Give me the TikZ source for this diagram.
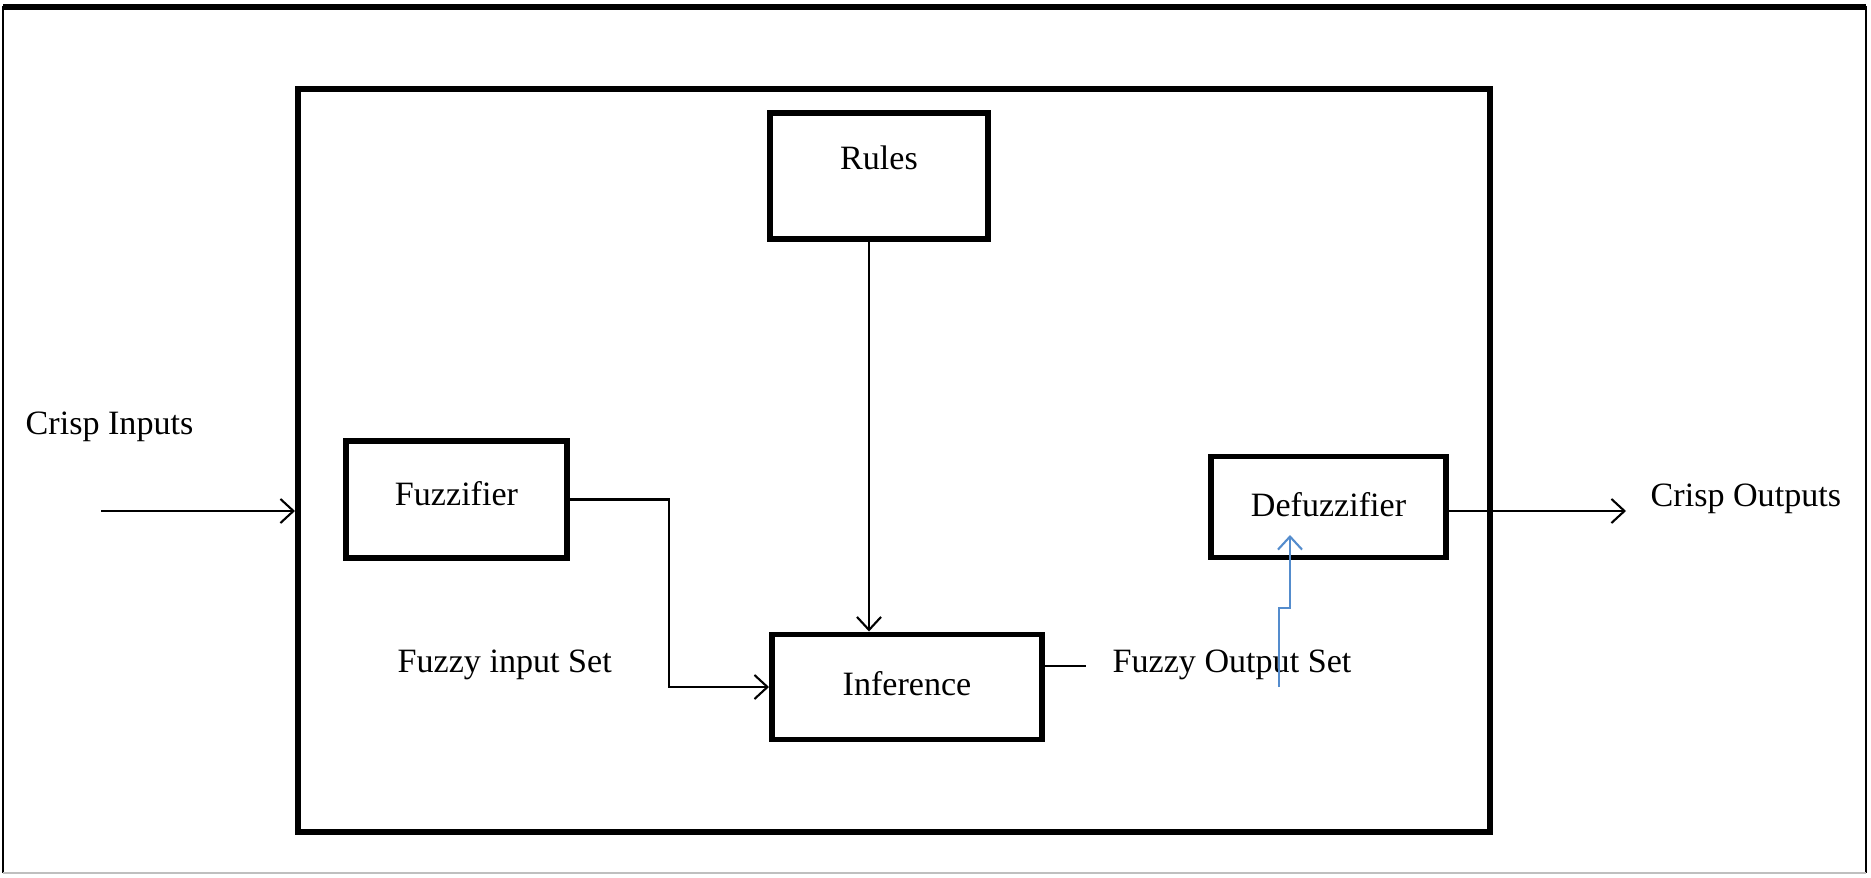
\documentclass[tikz,border=0pt]{standalone}
\usepackage{fontspec}
\setmainfont{Liberation Serif}
\usepackage{xcolor}
\usepackage{tikz}
\usetikzlibrary{arrows.meta,positioning}

\definecolor{linkblue}{RGB}{84,140,205}

\begin{document}
\begin{tikzpicture}[x=1cm,y=1cm,>={Straight Barb[length=1.3mm,width=2.4mm]},
  font=\fontsize{9.7}{11.6}\selectfont,
  blk/.style={draw,line width=1.7pt,inner sep=0pt},
  lbl/.style={anchor=west,inner sep=0pt},
  wire/.style={line width=0.6pt}]
  \useasboundingbox (0,0) rectangle (18.71,8.77);

  % page frame
  \draw[line width=0.8pt] (0.03,0.04) -- (0.03,8.70) -- (18.66,8.70) -- (18.66,0.04);
  \draw[line width=1.6pt] (0.03,8.70) -- (18.66,8.70);
  \draw[gray!50,line width=0.8pt] (0.03,0.04) -- (18.66,0.04);

  % fuzzy system and its blocks
  \node[blk,minimum width=11.92cm,minimum height=7.43cm] (fis) at (8.94,4.165) {};
  \node[blk,minimum width=2.18cm,minimum height=1.26cm,text depth=0.36cm] (rules) at (8.79,7.01) {Rules};
  \node[blk,minimum width=2.21cm,minimum height=1.17cm,text depth=0.12cm] (fuzz) at (4.565,3.775) {Fuzzifier};
  \node[blk,minimum width=2.70cm,minimum height=1.05cm,text depth=0.08cm] (inf) at (9.07,1.90) {Inference};
  \node[blk,minimum width=2.35cm,minimum height=1.01cm,text depth=0.06cm] (dfz) at (13.285,3.70) {Defuzzifier};

  % labels
  \node[lbl] (cinl) at (0.25,4.50) {Crisp Inputs};
  \node[lbl] (coutl) at (16.50,3.78) {Crisp Outputs};
  \node[lbl] (fisetl) at (3.97,2.12) {Fuzzy input Set};
  \node[lbl] (fosetl) at (11.12,2.12) {Fuzzy Output Set};

  % connections
  \coordinate (cin) at (1.01,3.66);
  \draw[wire,->] (cin) -- (cin -| fis.west);
  \draw[wire,->] ([yshift=-0.4mm]dfz.east) -- ++(1.77,0);
  \draw[wire,->] (fuzz.east) -- ++(0.99,0) |- (inf.west);
  \draw[wire,->] ([xshift=-1mm]rules.south) -- ([xshift=-1mm]rules.south |- inf.north);
  \draw[wire] ([yshift=2.1mm]inf.east) -- ++(0.41,0);

  % output set into the defuzzifier
  \coordinate (oset) at (12.79,1.90);
  \coordinate (dfzin) at (12.90,3.42);
  \draw[linkblue,wire,->] (oset) -- (12.79,2.69) -- (12.90,2.69) -- (dfzin);
\end{tikzpicture}
\end{document}
